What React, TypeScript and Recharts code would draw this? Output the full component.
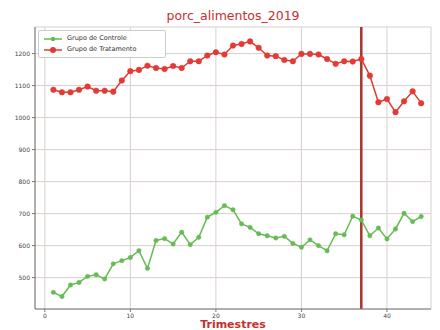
import React from "react";
import {
  LineChart,
  Line,
  XAxis,
  YAxis,
  CartesianGrid,
  ReferenceLine,
} from "recharts";

const quarters = [
  1, 2, 3, 4, 5, 6, 7, 8, 9, 10, 11, 12, 13, 14, 15, 16, 17, 18, 19, 20, 21, 22,
  23, 24, 25, 26, 27, 28, 29, 30, 31, 32, 33, 34, 35, 36, 37, 38, 39, 40, 41, 42,
  43, 44,
];
const controle = [
  454, 441, 477, 485, 504, 509, 496, 543, 553, 563, 584, 529, 616, 622, 605, 642,
  603, 626, 689, 704, 725, 712, 668, 657, 637, 631, 624, 629, 607, 595, 618, 600,
  584, 637, 634, 692, 680, 631, 655, 621, 652, 701, 675, 691,
];
const tratamento = [
  1087, 1079, 1079, 1087, 1097, 1084, 1084, 1081, 1116, 1145, 1149, 1162, 1155,
  1152, 1161, 1155, 1176, 1176, 1194, 1204, 1197, 1225, 1230, 1238, 1218, 1194,
  1192, 1180, 1176, 1199, 1199, 1197, 1183, 1168, 1176, 1175, 1183, 1131, 1048,
  1058, 1017, 1051, 1082, 1045,
];
const xTicks = [0, 10, 20, 30, 40];
const yTicks = [500, 600, 700, 800, 900, 1000, 1100, 1200];
const seriesNames = ["Grupo de Controle", "Grupo de Tratamento"];
const title = "porc_alimentos_2019";
const xLabel = "Trimestres";
const cutQuarter = 37;

const data = quarters.map((q, i) => ({
  q,
  controle: controle[i],
  tratamento: tratamento[i],
}));

const GREEN = "#66bb55";
const RED = "#e23b36";
const FONT = "DejaVu Sans, sans-serif";

const LegendBox = () => (
  <div
    style={{
      position: "absolute",
      left: 38,
      top: 30,
      background: "rgba(255,255,255,0.9)",
      border: "1px solid #ccc",
      borderRadius: 2,
      padding: "2px 5px",
      fontFamily: FONT,
      fontSize: 6.5,
      color: "#333",
      lineHeight: "11px",
      width: 116,
    }}
  >
    {[GREEN, RED].map((c, i) => (
      <div key={i} style={{ display: "flex", alignItems: "center" }}>
        <svg width={18} height={8} style={{ marginRight: 5 }}>
          <line x1={0} y1={4} x2={18} y2={4} stroke={c} strokeWidth={1.5} />
          <circle cx={9} cy={4} r={i === 0 ? 2.2 : 3} fill={c} />
        </svg>
        <span>{seriesNames[i]}</span>
      </div>
    ))}
  </div>
);

export default function App() {
  return (
    <div style={{ position: "absolute", left: 0, top: 0, width: 440, height: 330, background: "#fff", overflow: "hidden" }}>
      <div
        style={{
          position: "absolute",
          left: 0,
          top: 9,
          width: 466,
          textAlign: "center",
          fontFamily: FONT,
          fontSize: 12.5,
          color: "#c8302c",
          lineHeight: "14px",
        }}
      >
        {title}
      </div>
      <div
        style={{
          position: "absolute",
          left: 0,
          top: 318,
          width: 466,
          textAlign: "center",
          fontFamily: FONT,
          fontSize: 11,
          fontWeight: "bold",
          color: "#c8302c",
          lineHeight: "14px",
        }}
      >
        {xLabel}
      </div>
      <LineChart
        width={440}
        height={330}
        data={data}
        margin={{ top: 27, right: 9, bottom: 0, left: 0 }}
        style={{ position: "absolute", left: 0, top: 0 }}
      >
        <CartesianGrid stroke="#d8d0cc" strokeWidth={1} />
        <XAxis
          dataKey="q"
          type="number"
          domain={[-1.15, 45.15]}
          ticks={xTicks}
          height={21}
          allowDataOverflow
          stroke="#777"
          tickLine={{ stroke: "#777" }}
          tickSize={3}
          tick={{ fontSize: 6, fill: "#444", fontFamily: FONT }}
        />
        <XAxis
          xAxisId="top"
          orientation="top"
          type="number"
          domain={[-1.15, 45.15]}
          height={0}
          tick={false}
          tickLine={false}
          stroke="#999"
        />
        <YAxis
          type="number"
          domain={[402, 1283]}
          ticks={yTicks}
          width={35}
          allowDataOverflow
          stroke="#777"
          tickLine={{ stroke: "#777" }}
          tickSize={3}
          tick={{ fontSize: 6, fill: "#444", fontFamily: FONT }}
        />
        <YAxis
          yAxisId="right"
          orientation="right"
          type="number"
          domain={[402, 1283]}
          width={0}
          tick={false}
          tickLine={false}
          stroke="#999"
        />
        <ReferenceLine x={cutQuarter} stroke="#a8342e" strokeWidth={2.5} />
        <Line
          dataKey="controle"
          name={seriesNames[0]}
          stroke={GREEN}
          strokeWidth={1.5}
          dot={{ r: 2.2, fill: GREEN, stroke: GREEN, strokeWidth: 0.5 }}
          isAnimationActive={false}
        />
        <Line
          dataKey="tratamento"
          name={seriesNames[1]}
          stroke={RED}
          strokeWidth={1.5}
          dot={{ r: 2.8, fill: RED, stroke: RED, strokeWidth: 0.5 }}
          isAnimationActive={false}
        />
      </LineChart>
      <LegendBox />
    </div>
  );
}
